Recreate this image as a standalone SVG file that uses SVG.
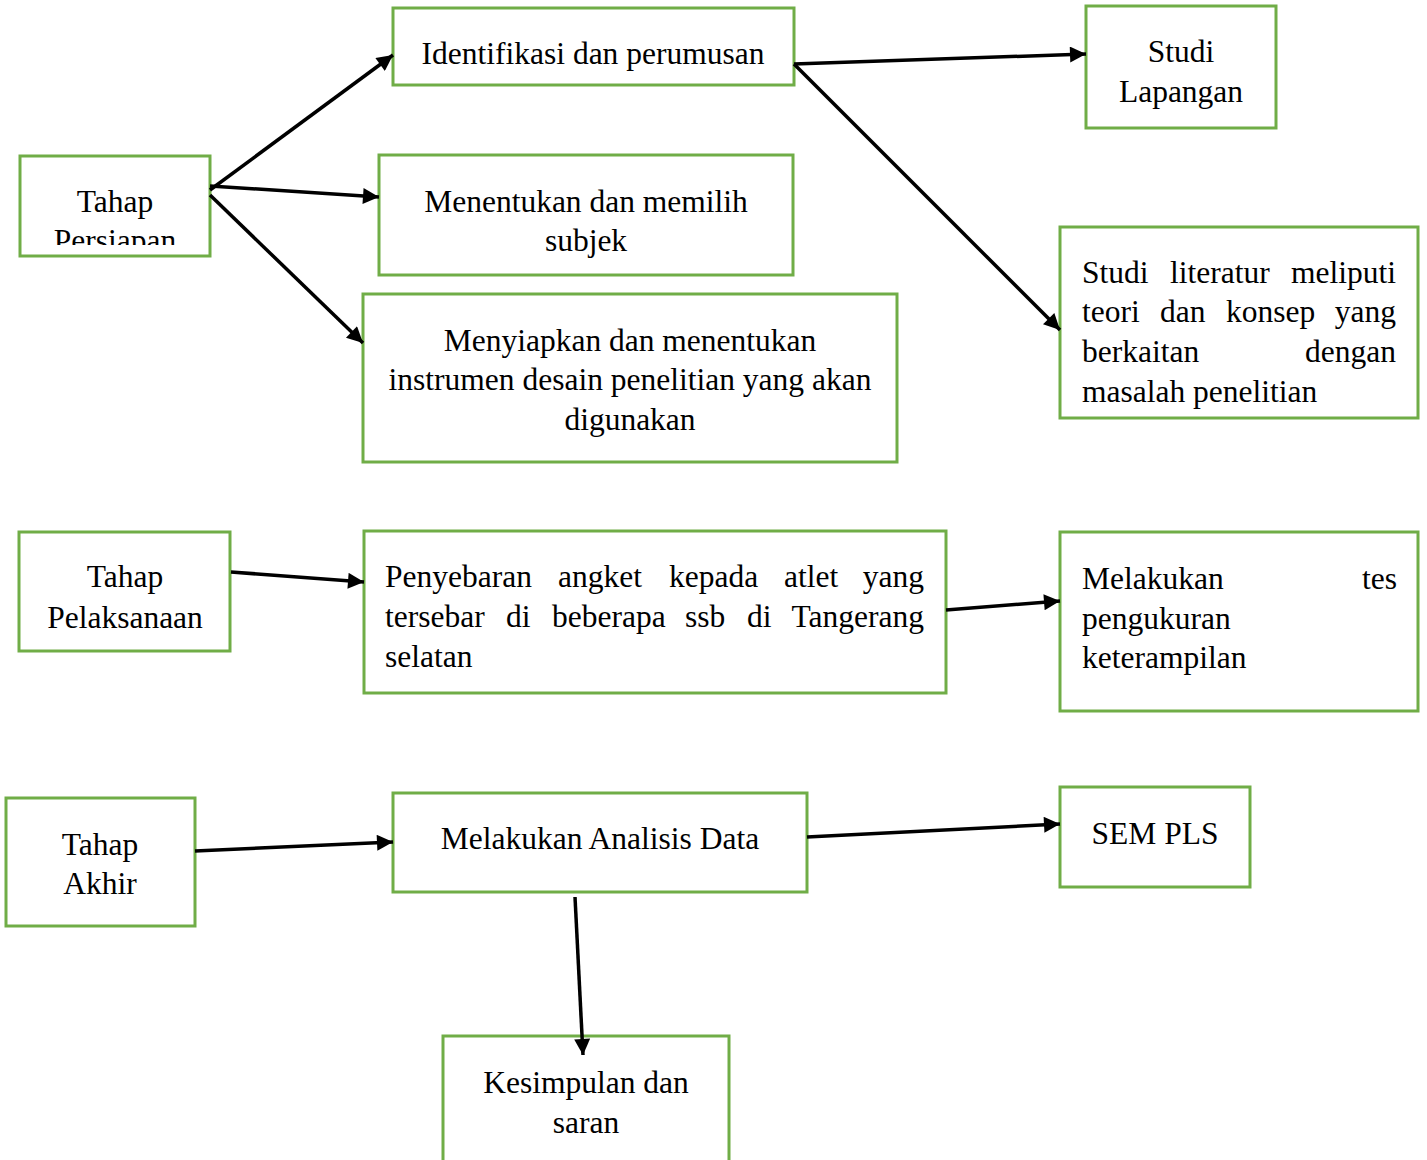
<svg xmlns="http://www.w3.org/2000/svg" width="1427" height="1160" viewBox="0 0 1427 1160">
<style>
.box{fill:#fff;stroke:#70AD47;stroke-width:3}
.t{font-family:"Liberation Serif","Times New Roman",serif;font-size:31.5px;fill:#000}
.c{text-anchor:middle}
.e{text-anchor:end}
.ln{stroke:#000;stroke-width:3.5;fill:none;marker-end:url(#ah)}
</style>
<defs>
<marker id="ah" viewBox="0 0 10 10" refX="10" refY="5" markerUnits="userSpaceOnUse" markerWidth="20" markerHeight="16" orient="auto">
<path d="M0,0 L10,5 L0,10 z" fill="#000"/>
</marker>
<clipPath id="clipP"><rect x="20" y="156" width="190" height="89"/></clipPath>
</defs>
<rect width="1427" height="1160" fill="#fff"/>
<g id="n-persiapan">
<rect class="box" x="20" y="156" width="190" height="100"/>
<g clip-path="url(#clipP)">
<text class="t c" x="115" y="212">Tahap</text>
<text class="t c" x="115" y="251">Persiapan</text>
</g>
</g>
<g id="n-identifikasi">
<rect class="box" x="393" y="8" width="401" height="77"/>
<text class="t c" x="593" y="64">Identifikasi dan perumusan</text>
</g>
<g id="n-studilap">
<rect class="box" x="1086" y="6" width="190" height="122"/>
<text class="t c" x="1181" y="62">Studi</text>
<text class="t c" x="1181" y="102">Lapangan</text>
</g>
<g id="n-menentukan">
<rect class="box" x="379" y="155" width="414" height="120"/>
<text class="t c" x="586" y="212">Menentukan dan memilih</text>
<text class="t c" x="586" y="251">subjek</text>
</g>
<g id="n-menyiapkan">
<rect class="box" x="363" y="294" width="534" height="168"/>
<text class="t c" x="630" y="351">Menyiapkan dan menentukan</text>
<text class="t c" x="630" y="390">instrumen desain penelitian yang akan</text>
<text class="t c" x="630" y="430">digunakan</text>
</g>
<g id="n-literatur">
<rect class="box" x="1060" y="227" width="358" height="191"/>
<text class="t" y="283"><tspan x="1082">Studi</tspan><tspan x="1170">literatur</tspan></text>
<text class="t e" x="1396" y="283">meliputi</text>
<text class="t" y="322"><tspan x="1082">teori</tspan><tspan x="1160">dan</tspan><tspan x="1226">konsep</tspan></text>
<text class="t e" x="1396" y="322">yang</text>
<text class="t" x="1082" y="362">berkaitan</text>
<text class="t e" x="1396" y="362">dengan</text>
<text class="t" x="1082" y="402">masalah penelitian</text>
</g>
<g id="n-pelaksanaan">
<rect class="box" x="19" y="532" width="211" height="119"/>
<text class="t c" x="125" y="587">Tahap</text>
<text class="t c" x="125" y="628">Pelaksanaan</text>
</g>
<g id="n-penyebaran">
<rect class="box" x="364" y="531" width="582" height="162"/>
<text class="t" y="587"><tspan x="385">Penyebaran</tspan><tspan x="558">angket</tspan><tspan x="669">kepada</tspan><tspan x="784">atlet</tspan></text>
<text class="t e" x="924" y="587">yang</text>
<text class="t" y="627"><tspan x="385">tersebar</tspan><tspan x="506">di</tspan><tspan x="552">beberapa</tspan><tspan x="685">ssb</tspan><tspan x="747">di</tspan></text>
<text class="t e" x="924" y="627">Tangerang</text>
<text class="t" x="385" y="667">selatan</text>
</g>
<g id="n-tes">
<rect class="box" x="1060" y="532" width="358" height="179"/>
<text class="t" x="1082" y="589">Melakukan</text>
<text class="t e" x="1397" y="589">tes</text>
<text class="t" x="1082" y="629">pengukuran</text>
<text class="t" x="1082" y="668">keterampilan</text>
</g>
<g id="n-akhir">
<rect class="box" x="6" y="798" width="189" height="128"/>
<text class="t c" x="100" y="855">Tahap</text>
<text class="t c" x="100" y="894">Akhir</text>
</g>
<g id="n-analisis">
<rect class="box" x="393" y="793" width="414" height="99"/>
<text class="t c" x="600" y="849">Melakukan Analisis Data</text>
</g>
<g id="n-sem">
<rect class="box" x="1060" y="787" width="190" height="100"/>
<text class="t c" x="1155" y="844">SEM PLS</text>
</g>
<g id="n-kesimpulan">
<rect class="box" x="443" y="1036" width="286" height="140"/>
<text class="t c" x="586" y="1093">Kesimpulan dan</text>
<text class="t c" x="586" y="1133">saran</text>
</g>
<g id="connectors">
<line class="ln" x1="210" y1="190" x2="393" y2="55"/>
<line class="ln" x1="210" y1="186" x2="379" y2="197"/>
<line class="ln" x1="210" y1="195" x2="363" y2="343"/>
<line class="ln" x1="794" y1="64" x2="1086" y2="54"/>
<line class="ln" x1="794" y1="64" x2="1060" y2="330"/>
<line class="ln" x1="231" y1="572" x2="364" y2="582"/>
<line class="ln" x1="946" y1="610" x2="1060" y2="601"/>
<line class="ln" x1="195" y1="851" x2="393" y2="842"/>
<line class="ln" x1="807" y1="837" x2="1060" y2="824"/>
<line class="ln" x1="575" y1="897" x2="583" y2="1055"/>
</g>
</svg>
